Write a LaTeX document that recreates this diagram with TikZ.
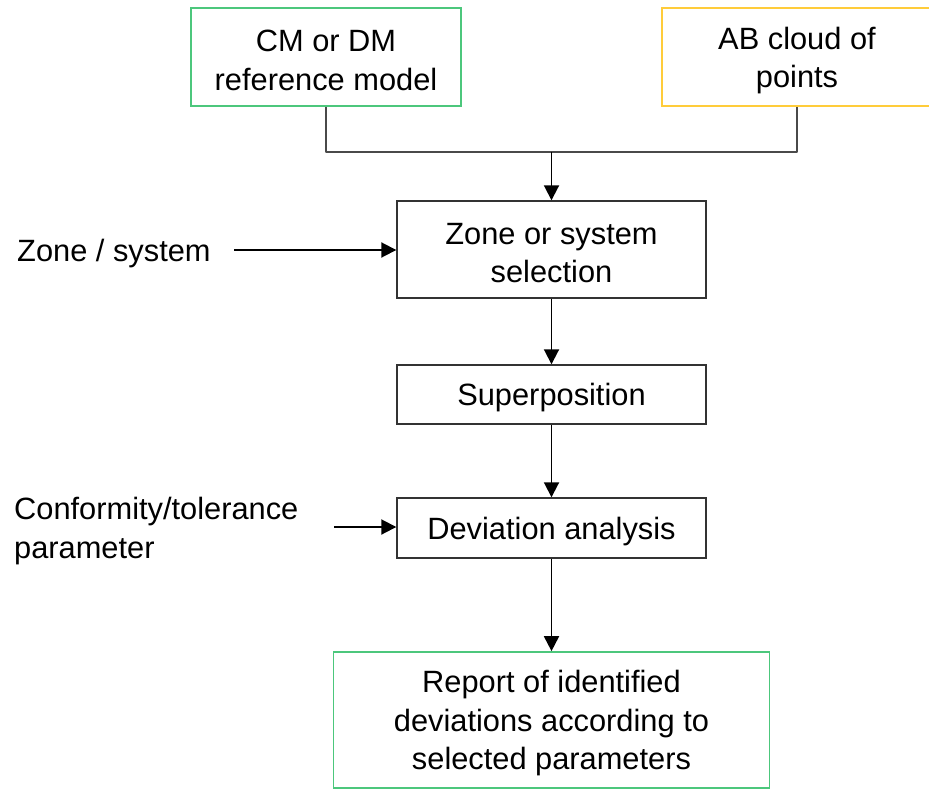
\documentclass[tikz,border=0pt]{standalone}
\usepackage{fontspec}
\setmainfont{Liberation Sans}
\usetikzlibrary{arrows.meta}
\definecolor{boxgreen}{HTML}{4CC77C}
\definecolor{boxyellow}{HTML}{FFCC3A}
\definecolor{edgegray}{HTML}{333333}
\definecolor{linkgray}{HTML}{4A4A4A}
\begin{document}
\begin{tikzpicture}[x=1bp,y=-1bp,
  every node/.style={font=\fontsize{30.8bp}{38.5bp}\selectfont, inner sep=0pt},
  procbox/.style={draw=edgegray, line width=1.4bp, fill=white},
  inbox/.style={procbox, draw=#1, line width=1.7bp},
  boxtext/.style={align=center, yshift=-3.5bp},
  flow/.style={draw=black, line width=1.9bp, -{Triangle[width=15bp,length=15bp]}},
  merge/.style={draw=linkgray, line width=2bp, line join=round}
]
\useasboundingbox (0,0) rectangle (929,790);

% input boxes
\node[inbox=boxgreen, minimum width=270bp, minimum height=98bp] (cm) at (326,57) {};
\node[boxtext] (cmtxt) at (cm.center) {CM or DM\\reference model};
\node[inbox=boxyellow, minimum width=270bp, minimum height=98bp] (ab) at (797,57) {};
\node[boxtext] (abtxt) at (ab.center) {AB cloud of\\points};

% process chain
\node[procbox, minimum width=309bp, minimum height=97bp] (zone) at (551.5,249.5) {};
\node[boxtext] (zonetxt) at (zone.center) {Zone or system\\selection};
\node[procbox, minimum width=309bp, minimum height=59bp] (sup) at (551.5,394.5) {};
\node[boxtext] (suptxt) at (sup.center) {Superposition};
\node[procbox, minimum width=309bp, minimum height=60bp] (dev) at (551.5,528) {};
\node[boxtext] (devtxt) at (dev.center) {Deviation analysis};
\node[inbox=boxgreen, minimum width=436bp, minimum height=136bp] (rep) at (551.5,720) {};
\node[boxtext] (reptxt) at (rep.center) {Report of identified\\deviations according to\\selected parameters};

% side parameters
\node[anchor=west] (zlab) at (17,253.5) {Zone / system};
\node[anchor=west, align=left] (clab) at (14,531) {Conformity/tolerance\\parameter};
\coordinate (zin) at (234,250);
\coordinate (cin) at (334,527);

% the two inputs merge into one
\coordinate (join) at (551.5,152);
\draw[merge] (cm.south) |- (join) -| (ab.south);
\draw[flow] (join) -- (zone.north);

% main flow
\draw[flow] (zone.south) -- (sup.north);
\draw[flow] (sup.south) -- (dev.north);
\draw[flow] (dev.south) -- (rep.north);

% side inputs
\draw[flow] (zin) -- (zin -| zone.west);
\draw[flow] (cin) -- (cin -| dev.west);
\end{tikzpicture}
\end{document}
